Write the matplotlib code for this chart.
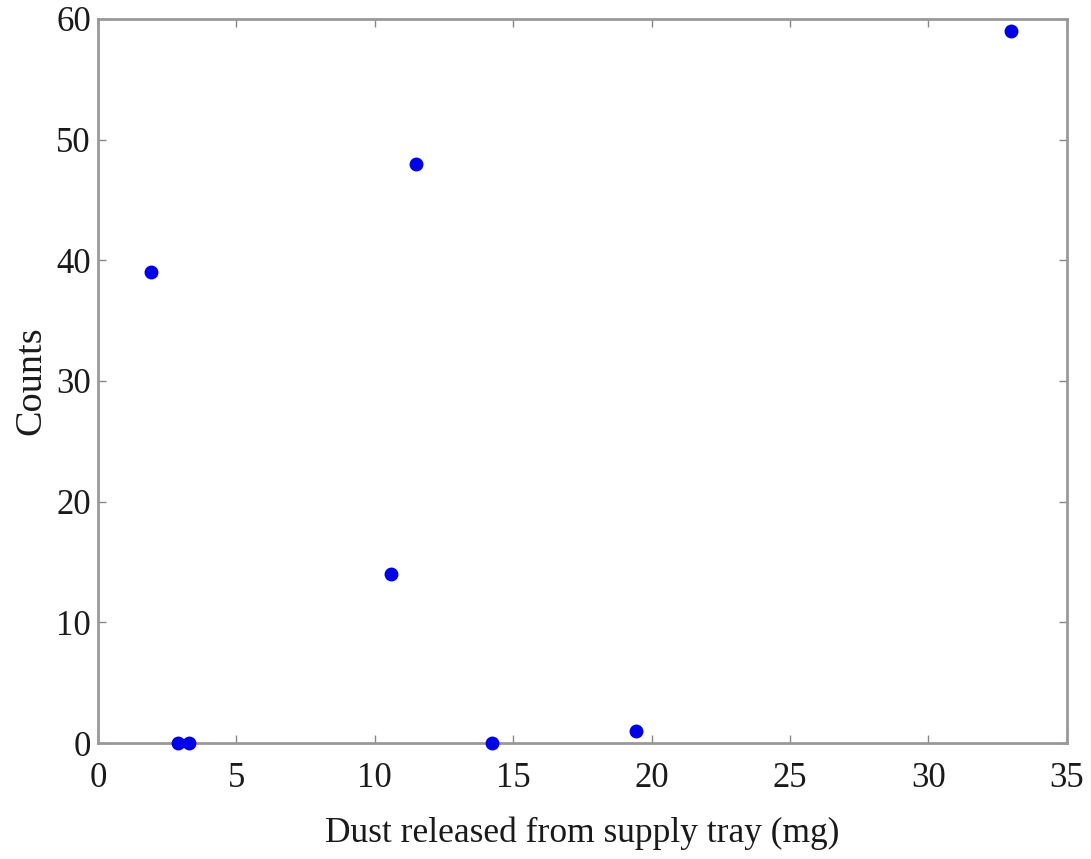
import matplotlib
matplotlib.use("Agg")
import matplotlib.pyplot as plt

dust_mg = [1.9, 2.9, 3.3, 10.6, 11.5, 14.25, 19.45, 33.0]
counts = [39, 0, 0, 14, 48, 0, 1, 59]
xticks = [0, 5, 10, 15, 20, 25, 30, 35]
yticks = [0, 10, 20, 30, 40, 50, 60]

plt.rcParams['font.family'] = ['Liberation Serif', 'DejaVu Serif']

fig = plt.figure(figsize=(10.91, 8.59), dpi=100)
ax = fig.add_axes([0.0898, 0.135, 0.888, 0.843])
ax.plot(dust_mg, counts, 'o', color='#0000e6', markersize=9, clip_on=False, zorder=3)
ax.set_xlim(0, 35)
ax.set_ylim(0, 60)
ax.set_xticks(xticks)
ax.set_yticks(yticks)
ax.tick_params(direction='in', length=6, width=1, color='#888888', top=True, right=True,
               labelsize=25, labelcolor='#1a1a1a')
ax.tick_params(axis='x', pad=14)
ax.tick_params(axis='y', pad=5)
for s in ax.spines.values():
    s.set_color('#999999')
    s.set_linewidth(2)
ax.set_xlabel('Dust released from supply tray (mg)', fontsize=25.5, color='#1a1a1a', labelpad=15)
ax.set_ylabel('Counts', fontsize=27.5, color='#1a1a1a', labelpad=6)
fig.savefig('out.png', dpi=100)
